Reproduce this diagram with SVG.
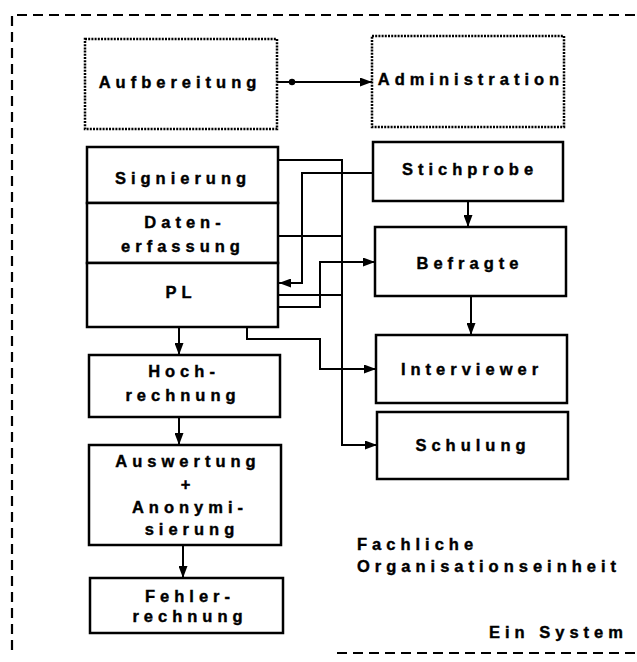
<svg xmlns="http://www.w3.org/2000/svg" width="637" height="662" viewBox="0 0 637 662">
<style>
.box{fill:#fff;stroke:#000;stroke-width:2.5}
.dot{fill:#fff;stroke:#000;stroke-width:2.5;stroke-dasharray:2 1.2}
.t{font-family:"Liberation Sans",Arial,sans-serif;font-weight:bold;font-size:16.5px;letter-spacing:5px;fill:#000;stroke:#000;stroke-width:0.4}
.c{text-anchor:middle}
.ln{fill:none;stroke:#000;stroke-width:2}
.bd{fill:none;stroke:#000;stroke-width:2.2;stroke-dasharray:10 6}
</style>
<defs>
<marker id="ah" viewBox="0 0 12 9" refX="12" refY="4.5" markerWidth="12" markerHeight="9" markerUnits="userSpaceOnUse" orient="auto">
<path d="M0,0 L12,4.5 L0,9 Z" fill="#000"/>
</marker>
</defs>
<g id="border">
<path class="bd" d="M12,650 V15 H637"/>
<path class="bd" d="M337,653 H637"/>
</g>
<g id="aufbereitung"><rect class="dot" x="85" y="39" width="192" height="90"/><text class="t c" x="180" y="88">Aufbereitung</text></g>
<g id="administration"><rect class="dot" x="372" y="36" width="192" height="91"/><text class="t c" x="471" y="85">Administration</text></g>
<g id="signierung"><rect class="box" x="87" y="147" width="191" height="56"/><text class="t c" x="183" y="184">Signierung</text></g>
<g id="datenerfassung"><rect class="box" x="87" y="203" width="191" height="60"/><text class="t c" x="185" y="228">Daten-</text><text class="t c" x="183" y="252">erfassung</text></g>
<g id="pl"><rect class="box" x="87" y="263" width="191" height="64"/><text class="t c" x="181" y="298">PL</text></g>
<g id="hochrechnung"><rect class="box" x="89" y="355" width="191" height="62"/><text class="t c" x="184" y="377">Hoch-</text><text class="t c" x="183" y="401">rechnung</text></g>
<g id="auswertung"><rect class="box" x="89" y="445" width="192" height="100"/><text class="t c" x="188" y="467">Auswertung</text><text class="t c" x="188" y="490">+</text><text class="t c" x="190" y="513">Anonymi-</text><text class="t c" x="192" y="535">sierung</text></g>
<g id="fehlerrechnung"><rect class="box" x="90" y="578" width="193" height="55"/><text class="t c" x="190" y="602">Fehler-</text><text class="t c" x="190" y="622">rechnung</text></g>
<g id="stichprobe"><rect class="box" x="373" y="142" width="190" height="59"/><text class="t c" x="470" y="175">Stichprobe</text></g>
<g id="befragte"><rect class="box" x="375" y="227" width="191" height="69"/><text class="t c" x="470" y="269">Befragte</text></g>
<g id="interviewer"><rect class="box" x="376" y="335" width="191" height="68"/><text class="t c" x="472" y="375">Interviewer</text></g>
<g id="schulung"><rect class="box" x="377" y="412" width="191" height="67"/><text class="t c" x="473" y="451">Schulung</text></g>
<g id="labels">
<text class="t" x="357" y="550">Fachliche</text>
<text class="t" x="357" y="572">Organisationseinheit</text>
<text class="t" x="489" y="638">Ein System</text>
</g>
<g id="connectors">
<path class="ln" d="M277,82 H372" marker-end="url(#ah)"/>
<circle cx="292" cy="82" r="3.2" fill="#000"/>
<path class="ln" d="M278,160 H342 V445 H377" marker-end="url(#ah)"/>
<path class="ln" d="M373,173 H302 V283 H279" marker-end="url(#ah)"/>
<path class="ln" d="M278,236 H342"/>
<path class="ln" d="M278,307 H320 V262 H375" marker-end="url(#ah)"/>
<path class="ln" d="M278,295 H342"/>
<path class="ln" d="M247,327 V339 H320 V369 H376" marker-end="url(#ah)"/>
<path class="ln" d="M179,327 V355" marker-end="url(#ah)"/>
<path class="ln" d="M179,417 V445" marker-end="url(#ah)"/>
<path class="ln" d="M183,545 V578" marker-end="url(#ah)"/>
<path class="ln" d="M468,201 V227" marker-end="url(#ah)"/>
<path class="ln" d="M471,296 V335" marker-end="url(#ah)"/>
</g>
</svg>
